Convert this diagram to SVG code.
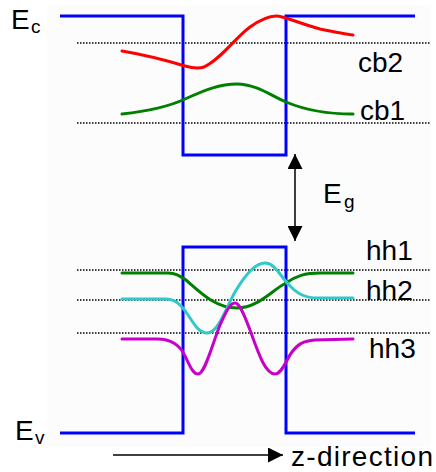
<svg xmlns="http://www.w3.org/2000/svg" width="436" height="472" viewBox="0 0 436 472">
<defs>
<style>
.band{fill:none;stroke:#0000ff;stroke-width:3;stroke-linejoin:miter}
.lvl{stroke:#000;stroke-width:1.5;stroke-dasharray:1.5 1.5}
.wf{fill:none;stroke-width:3;stroke-linejoin:round;stroke-linecap:round}
.t{font-family:"Liberation Sans",Arial,sans-serif;font-size:28px;fill:#000}
.s{font-family:"Liberation Sans",Arial,sans-serif;font-size:19px;fill:#000}
.ar{stroke:#000;stroke-width:1.5;fill:none}
</style>
<marker id="ah" viewBox="0 0 10 10" refX="10" refY="5" markerWidth="15" markerHeight="15" markerUnits="userSpaceOnUse" orient="auto-start-reverse">
<path d="M0,0 L10,5 L0,10 Z" fill="#000"/>
</marker>
</defs>
<rect width="436" height="472" fill="#fff"/>
<rect x="47" y="5" width="384" height="442" fill="#fcfcfc"/>
<g id="levels">
<line class="lvl" x1="77" y1="43" x2="430" y2="43"/>
<line class="lvl" x1="77" y1="123" x2="430" y2="123"/>
<line class="lvl" x1="77" y1="270" x2="430" y2="270"/>
<line class="lvl" x1="77" y1="300" x2="430" y2="300"/>
<line class="lvl" x1="77" y1="333" x2="430" y2="333"/>
</g>
<g id="conduction-band">
<path class="band" d="M60,16 H183 V155 H286 V16 H415"/>
<text class="t" x="11" y="29">E</text><text class="s" x="31" y="33">c</text>
</g>
<g id="valence-band">
<path class="band" d="M60,433 H183 V247 H286 V433 H415"/>
<text class="t" x="15" y="440">E</text><text class="s" x="35" y="444">v</text>
</g>
<g id="cb2">
<path class="wf" stroke="#ff0000" d="M122,51 C140,54 165,60 185,66 C192,68 198,69 204,67 C220,60 235,38 250,27 C260,20 268,16 276,16 C284,16 298,23 320,29 C335,32 345,34 353,35"/>
<text class="t" x="358" y="72">cb2</text>
</g>
<g id="cb1">
<path class="wf" stroke="#008000" d="M122,114 C150,111 170,106 185,99 C205,90 220,84 237,84 C255,84 270,95 286,102 C305,110 325,114 353,114"/>
<text class="t" x="360" y="120">cb1</text>
</g>
<g id="hh1">
<path class="wf" stroke="#008000" d="M122,273 L168,273 C176,273 180,276 186,280 C200,292 215,308 237,308 C258,308 272,290 286,283 C296,276 305,273 320,273 L353,273"/>
<text class="t" x="366" y="260">hh1</text>
</g>
<g id="hh2">
<path class="wf" stroke="#30c8c8" d="M122,299 L165,299 C175,299 180,304 186,312 C193,322 198,333 207,333 C218,333 225,310 235,292 C245,275 255,263 265,263 C275,263 280,276 290,286 C298,294 305,298 318,298 L353,298"/>
<text class="t" x="366" y="300">hh2</text>
</g>
<g id="hh3">
<path class="wf" stroke="#c800c8" d="M122,339 L157,339 C170,339 180,345 185,356 C190,366 193,374 198,374 C205,374 212,345 220,325 C226,312 230,303 235,303 C240,303 245,317 250,330 C258,352 265,374 275,374 C282,374 286,360 292,352 C298,344 303,341 315,340 L353,339"/>
<text class="t" x="369" y="358">hh3</text>
</g>
<g id="eg-label">
<text class="t" x="323" y="203">E</text><text class="s" x="344" y="208">g</text>
</g>
<g id="z-label">
<text class="t" x="291" y="466" textLength="142">z-direction</text>
</g>
<g id="connectors">
<line class="ar" x1="295" y1="154" x2="295" y2="241" marker-start="url(#ah)" marker-end="url(#ah)"/>
<line class="ar" x1="113" y1="455" x2="283" y2="455" marker-end="url(#ah)"/>
</g>
</svg>
